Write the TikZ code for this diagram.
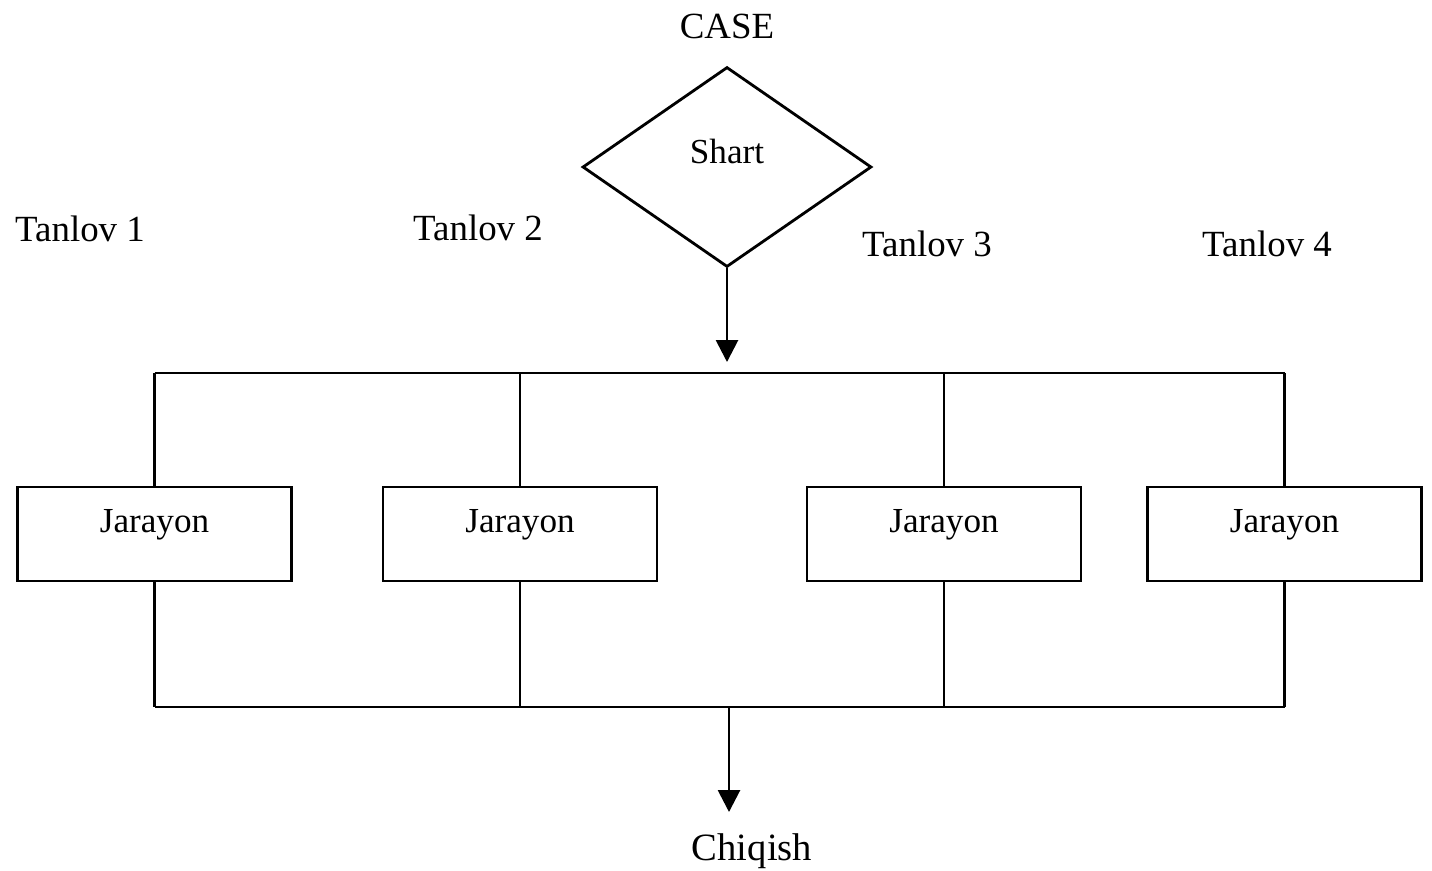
\documentclass[tikz,border=0pt]{standalone}
\usepackage{fontspec}
\setmainfont{Liberation Serif}
\usetikzlibrary{shapes.geometric,arrows.meta}
\begin{document}
\begin{tikzpicture}[x=0.02cm,y=-0.02cm,
  line/.style={line width=1.6pt},
  arrowline/.style={line, -{Triangle[width=0.44cm,length=0.44cm]}},
  procbox/.style={draw, line width=1.6pt, rectangle, inner sep=0pt,
    minimum width=5.48cm, minimum height=1.88cm,
    text height=0.9cm, text depth=0.98cm,
    font=\fontsize{20}{24}\selectfont},
  decision/.style={draw, line width=1.6pt, diamond, inner sep=0pt,
    minimum width=5.78cm, minimum height=4cm,
    text height=0.4cm, text depth=0.56cm,
    font=\fontsize{20}{24}\selectfont},
  lbl/.style={anchor=base, inner sep=0pt, font=\fontsize{21}{25}\selectfont}]
\useasboundingbox (0,0) rectangle (1432,870);

% headings and option labels
\node[lbl] (case) at (727,38) {CASE};
\node[lbl] (t1) at (80,241) {Tanlov 1};
\node[lbl] (t2) at (478,240) {Tanlov 2};
\node[lbl] (t3) at (927,256) {Tanlov 3};
\node[lbl] (t4) at (1267,256) {Tanlov 4};
\node[lbl, font=\fontsize{22}{26}\selectfont] (exit) at (752,860) {Chiqish};

% condition
\node[decision] (cond) at (727,167) {Shart};

% process boxes
\node[procbox] (b1) at (154.5,534) {Jarayon};
\node[procbox] (b2) at (520,534) {Jarayon};
\node[procbox] (b3) at (944,534) {Jarayon};
\node[procbox] (b4) at (1284.5,534) {Jarayon};

% branch and join rails
\coordinate (topbus) at (727,373);
\coordinate (botbus) at (729,707);
\coordinate (intip) at (727,362);
\coordinate (outtip) at (729,812);

\draw[arrowline] (cond.south) -- (intip);
\draw[line] (b1.north |- topbus) -- (b4.north |- topbus);
\draw[line] (b1.south |- botbus) -- (b4.south |- botbus);
\foreach \b in {b1,b2,b3,b4} {
  \draw[line] (\b.north |- topbus) -- (\b.north);
  \draw[line] (\b.south) -- (\b.south |- botbus);
}
\draw[arrowline] (botbus) -- (outtip);
\end{tikzpicture}
\end{document}
